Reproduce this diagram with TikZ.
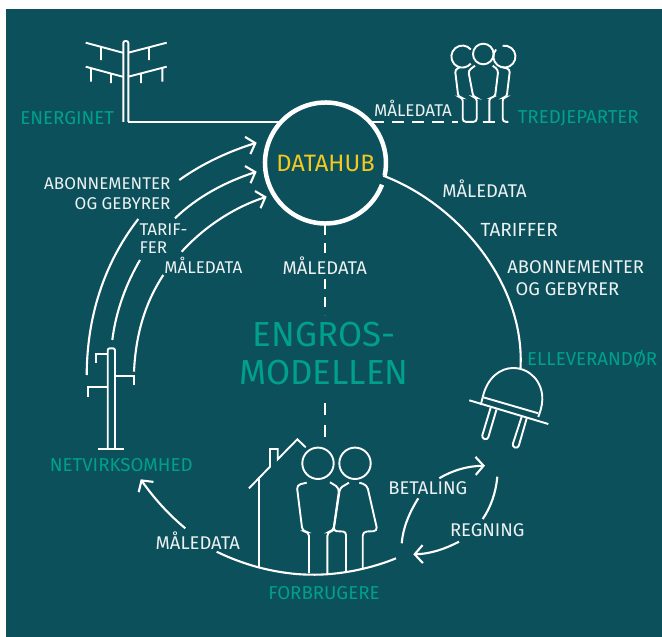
\documentclass[tikz,border=0pt]{standalone}
\usepackage{fontspec}
\setmainfont{Fira Sans}
\usepackage{xcolor}
\usetikzlibrary{arrows.meta}
\definecolor{panelbg}{HTML}{0C505C}
\definecolor{labelteal}{HTML}{00A08A}
\definecolor{hubyellow}{HTML}{F5C81E}
\tikzset{
    wire/.style={white,line width=1.9pt},
    flow/.style={white,line width=2.1pt,-{Straight Barb[length=8pt,width=18pt]}},
    link/.style={white,line width=2.1pt},
    txt/.style={text=white!92!panelbg,font=\fontsize{17}{17}\selectfont,inner sep=0pt},
    txtwide/.style={text=white!92!panelbg,font=\fontsize{18.4}{18.4}\selectfont,inner sep=0pt},
    actor/.style={text=labelteal,font=\fontsize{18.7}{18.7}\selectfont,inner sep=0pt},
    bigtxt/.style={text=labelteal,font=\fontsize{34.8}{34.8}\selectfont,inner sep=0pt},
}
\begin{document}
\begin{tikzpicture}[x=1pt,y=-1pt]
    \useasboundingbox (0,0) rectangle (662,637);
    \fill[panelbg] (6,9) rectangle (662,637);
    % Hub
    \node[circle,minimum size=121pt,inner sep=0pt,text=hubyellow,font=\fontsize{23.7}{23.7}\selectfont] (hub) at (325.5,163) {DATAHUB};
    \draw[white,line width=4.5pt] (hub.center) ++(21:60.5) arc[start angle=21,end angle=372,radius=60.5];
    % Connector ends
    \coordinate (poleFoot) at (128.3,121.8);
    \coordinate (hubNW) at (279,121.8);
    \coordinate (hubNE) at (372,121.8);
    \coordinate (crowdFoot) at (458,121.8);
    \coordinate (hubS) at (325,225);
    \coordinate (midEnd) at (325,315);
    \coordinate (midStart) at (325,403);
    \coordinate (houseTop) at (325,437);
    \coordinate (hubE) at (383.3,175.7);
    \coordinate (plugTop) at (520.5,368);
    % Lines to hub
    \draw[link] (poleFoot) -- (hubNW);
    \draw[link,dash pattern=on 12pt off 8pt] (hubNE) -- (crowdFoot);
    \draw[link,dash pattern=on 10pt off 8pt] (hubS) -- (midEnd);
    \draw[link,dash pattern=on 12pt off 10pt] (midStart) -- (houseTop);
    \draw[link] (hubE) .. controls (460,205) and (525,285) .. (plugTop);
    % Energinet pylon
    \draw[wire,rounded corners=2pt] (123.3,121.8) -- (123.3,41) -- (128.3,41) -- (128.3,121.8);
    \draw[wire] (85.7,42.7) -- (122.7,52.7) (101,47) -- (101,60);
    \draw[wire] (128.3,52.7) -- (166.7,42.7) (149,47.5) -- (149,60);
    \draw[wire] (85.7,66.7) -- (122.7,76.7) (91,68) -- (91,81.7) (111,73) -- (111,83);
    \draw[wire] (128.3,76.7) -- (166.7,66.7) (141,73.5) -- (141,83) (162.3,68) -- (162.3,81.7);
    % Third parties
    \draw[wire] (483.3,54) circle[radius=10.3];
    \draw[wire] (470.8,49.5) arc[start angle=-40,end angle=-320,radius=11];
    \draw[wire] (496,49.5) arc[start angle=220,end angle=-100,radius=11];
    \draw[wire,rounded corners=3pt] (460,67.3) -- (455,69.5) -- (458.3,97) -- (462.7,97.7) -- (462.7,121.8) -- (476.7,121.8) -- (476.7,97.7) -- (473.3,97) -- (468.3,70.7) -- (475,65.7);
    \draw[wire,rounded corners=3pt] (492.7,65.7) -- (498.3,70) -- (495,97) -- (489.3,97.7) -- (489.3,121.8);
    \draw[wire] (482.7,121.8) -- (495,121.8);
    \draw[wire,rounded corners=3pt] (500.7,66.7) -- (510,69.3) -- (506.7,97) -- (502.7,97.7) -- (502.7,121.8) -- (508.3,121.8);
    % Flows into hub
    \coordinate (a1) at (86.7,375);
    \coordinate (a2) at (138.3,219);
    \coordinate (a3) at (179.3,180);
    \coordinate (a4) at (256.7,142.7);
    \coordinate (b1) at (112.3,340);
    \coordinate (b2) at (140,260);
    \coordinate (b3) at (175,218.3);
    \coordinate (b4) at (256.7,171.7);
    \coordinate (c1) at (134,371.7);
    \coordinate (c2) at (163.3,275);
    \coordinate (c3) at (181.7,251.7);
    \coordinate (c4) at (266.7,196.7);
    \draw[link] (a1) .. controls (87,310) and (108,258) .. (a2);
    \draw[flow] (a3) .. controls (203,163) and (230,151) .. (a4);
    \draw[link] (b1) .. controls (116,310) and (127,282) .. (b2);
    \draw[flow] (b3) .. controls (197,197) and (225,182) .. (b4);
    \draw[link] (c1) .. controls (136,330) and (147,300) .. (c2);
    \draw[flow] (c3) .. controls (205,226) and (235,207) .. (c4);
    % Net pylon
    \draw[wire,rounded corners=2pt] (107.7,448.7) -- (107.7,348.3) -- (115,348.3) -- (115,448.7);
    \draw[wire] (98.3,448.7) -- (124.3,448.7);
    \draw[wire] (107.3,354) -- (96,354) -- (96,363.3);
    \draw[wire] (115,375.7) -- (134,375.7) -- (134,385);
    \draw[wire] (106.7,387.3) -- (87.7,387.3) -- (87.7,396.7);
    % House
    \draw[wire] (249,488.3) -- (270,466.7) -- (270,449) -- (277.7,449) -- (277.7,459.3) -- (297.3,439.3) -- (305.7,447.3);
    \draw[wire] (259,476.7) -- (259,566.7);
    % Couple
    \draw[wire] (318,463.3) circle[radius=15.7];
    \draw[wire] (355,463.3) circle[radius=15.7];
    \draw[wire,rounded corners=4pt] (306.7,482.7) -- (296.7,485) -- (302.5,531.5) -- (309,532) -- (309,573);
    \draw[wire,rounded corners=4pt] (330,482.3) -- (339.3,488) -- (333.3,531) -- (327.3,532) -- (327.3,574);
    \draw[wire,rounded corners=3pt] (349,482.7) -- (340,488) -- (333.5,531) -- (346,531.7) -- (346,572);
    \draw[wire,rounded corners=4pt] (359.3,482.7) -- (367,485) -- (377.5,531) -- (362.7,531.7) -- (362.7,568);
    % Ground line
    \coordinate (groundL) at (216.7,551.7);
    \coordinate (groundM) at (315,574.7);
    \coordinate (groundR) at (396,558.3);
    \draw[link] (groundL) .. controls (250,568) and (285,575) .. (groundM) .. controls (345,574.5) and (375,567) .. (groundR);
    % Plug
    \draw[wire] (482.7,397.3) .. controls (487,378) and (500,368) .. (513,368) .. controls (530,368) and (543,382) .. (542.3,400) .. controls (542,407) and (540,412) .. (538.3,417);
    \draw[wire] (469.3,400.3) -- (548.3,424);
    \draw[wire] (483.3,397.3) -- (538.3,413.3) (482.7,397.3) -- (480.7,405);
    \draw[wire,rounded corners=3pt] (490.7,407.5) -- (481.5,438) -- (487.5,440) -- (496.5,409.5);
    \draw[wire,rounded corners=3pt] (521.7,416.7) -- (512,446.5) -- (518,448.5) -- (526.7,418.3);
    % Flow to net
    \coordinate (netOut) at (185.3,528.3);
    \coordinate (netIn) at (140.7,479.3);
    \draw[flow] (netOut) .. controls (168,514) and (153,497) .. (netIn);
    % Payment and bill
    \coordinate (payA) at (401.7,543.3);
    \coordinate (payB) at (418.3,498.3);
    \coordinate (payC) at (439.3,478.3);
    \coordinate (payD) at (485,465.7);
    \coordinate (billA) at (497.3,476.7);
    \coordinate (billB) at (482.7,519);
    \coordinate (billC) at (459,541.7);
    \coordinate (billD) at (413.3,554.3);
    \draw[link] (payA) .. controls (403,528) and (409,513) .. (payB);
    \draw[flow] (payC) .. controls (453,470) and (468,466) .. (payD);
    \draw[link] (billA) .. controls (496,492) and (491,507) .. (billB);
    \draw[flow] (billC) .. controls (445,549) and (430,554) .. (billD);
    % Labels
    \node[actor] (energinet) at (67.3,118) {ENERGINET};
    \node[actor] (tredje) at (578.3,118) {TREDJEPARTER};
    \node[actor] (elleverandor) at (592.2,359) {ELLEVERANDØR};
    \node[actor] (netvirk) at (121.3,465) {NETVIRKSOMHED};
    \node[actor] (forbrugere) at (324,592.7) {FORBRUGERE};
    \node[bigtxt] (engros) at (324,335) {ENGROS-};
    \node[bigtxt] (modellen) at (324,373) {MODELLEN};
    \node[txt] (dataTop) at (413,108) {MÅLEDATA};
    \node[txtwide,fill=panelbg,inner sep=2pt] (dataMid) at (324.7,266) {MÅLEDATA};
    \node[txtwide] (dataRight) at (484.5,189) {MÅLEDATA};
    \node[txtwide,font=\fontsize{19}{19}\selectfont] (tarifRight) at (519.2,230) {TARIFFER};
    \node[txtwide] (aboRight) at (575.7,266.7) {ABONNEMENTER};
    \node[txtwide] (gebRight) at (567.4,288.7) {OG GEBYRER};
    \node[txt,anchor=east] (aboLeft) at (170.7,183.3) {ABONNEMENTER};
    \node[txt,anchor=east] (gebLeft) at (170.7,204) {OG GEBYRER};
    \node[txt,anchor=west] (tarifA) at (139.3,230) {TARIF-};
    \node[txt,anchor=west] (tarifB) at (139.3,247.3) {FER};
    \node[txt] (dataLeft) at (203.3,265.7) {MÅLEDATA};
    \node[txtwide] (dataLow) at (197.8,540.7) {MÅLEDATA};
    \node[txtwide] (betaling) at (427.8,487.7) {BETALING};
    \node[txtwide] (regning) at (487.3,530) {REGNING};
\end{tikzpicture}
\end{document}
